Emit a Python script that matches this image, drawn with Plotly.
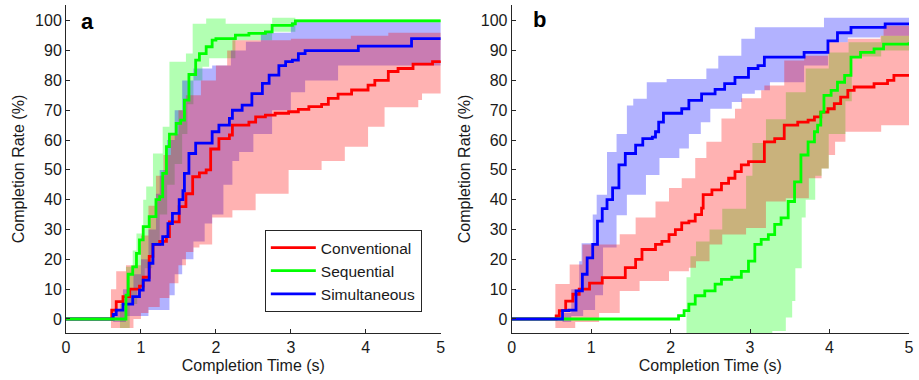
import plotly.graph_objects as go

# ---------------- Panel a data ----------------
a_conv_t = [0, 0.61, 0.67, 0.76, 0.85, 0.98, 1.03, 1.11, 1.16, 1.25, 1.34, 1.38, 1.51, 1.6, 1.69, 1.78, 1.87, 1.93, 2.04, 2.18,
            2.22, 2.44, 2.53, 2.66, 2.79, 2.97, 3.1, 3.24, 3.41, 3.5, 3.63, 3.81, 4.03, 4.12, 4.3, 4.43, 4.63, 4.89, 5.0]
a_conv_v = [0, 3, 5.8, 7.5, 10, 11, 14, 21, 25, 26, 27.6, 32.6, 37.7, 42, 47.7, 49, 50, 57, 60.5, 61.7,
            65, 66, 67.8, 68.4, 69, 69.5, 70.3, 71.2, 72, 74, 75.4, 76.8, 78.4, 80, 83, 84, 85.5, 86.3, 86.5]
a_conv_lo_t = [0.6, 0.8, 0.9, 1.0, 1.1, 1.25, 1.38, 1.5, 1.6, 1.7, 1.78, 1.95, 2.22, 2.53, 2.97, 3.41, 3.72, 4.03, 4.25, 4.7, 4.75, 5.0]
a_conv_lo_v = [-3, -3, 0, 2, 4, 7, 12, 18, 22.5, 24, 25, 34, 36.5, 42, 50, 53, 57.8, 64.5, 71, 73.4, 75.6, 75.6]
a_conv_hi_t = [0.6, 0.67, 0.8, 0.95, 1.0, 1.1, 1.2, 1.3, 1.4, 1.5, 1.6, 1.8, 2.0, 2.15, 2.22, 2.5, 3.0, 3.8, 4.3, 5.0]
a_conv_hi_v = [10, 16, 18, 18, 28, 38, 48, 55, 62, 70, 75, 80, 85, 90, 93.5, 93.5, 94, 95, 96, 97]

a_seq_t = [0, 0.72, 0.8, 0.83, 0.89, 0.94, 0.98, 1.03, 1.11, 1.2, 1.25, 1.29, 1.34, 1.38, 1.47, 1.53, 1.58, 1.64, 1.73, 1.78,
           1.87, 1.95, 2.0, 2.26, 2.44, 2.66, 2.75, 3.02, 3.06, 5.0]
a_seq_v = [0, 0, 8, 15, 17.5, 22, 26.5, 31, 34.3, 40, 41, 48.8, 57.8, 62, 65.6, 66.7, 73.4, 82, 86.8, 89,
           91.3, 93.5, 94, 95.2, 95.8, 96.3, 98.5, 99, 100, 100]
a_seq_lo_t = [0.72, 0.85, 0.95, 1.05, 1.15, 1.25, 1.35, 1.45, 1.55, 1.62, 1.7, 1.82, 1.91, 2.26, 2.75, 3.06, 5.0]
a_seq_lo_v = [-3, 5, 10, 17, 25, 35, 45, 52, 62, 72, 80, 84.6, 87.4, 93.5, 96.3, 99.5, 99.5]
a_seq_hi_t = [0.72, 0.8, 0.89, 0.94, 1.03, 1.07, 1.16, 1.29, 1.38, 1.6, 1.69, 1.87, 2.13, 2.66, 2.75, 3.06, 5.0]
a_seq_hi_v = [5, 17.5, 23, 28.7, 40, 44.4, 55.5, 64.5, 86.3, 89, 99, 100.8, 99, 99, 101, 100.5, 100.5]

a_sim_t = [0, 0.63, 0.67, 0.76, 0.89, 0.98, 1.03, 1.11, 1.16, 1.29, 1.36, 1.42, 1.51, 1.56, 1.58, 1.64, 1.73, 1.95, 2.04, 2.18,
           2.22, 2.35, 2.48, 2.62, 2.71, 2.84, 2.93, 3.02, 3.1, 3.19, 3.9, 4.61, 5.0]
a_sim_v = [0, 1.5, 3, 5, 7.5, 9.7, 13, 18.7, 25, 27.6, 32, 35.4, 40, 43, 48.8, 55.5, 59, 62.8, 65, 67.3,
           70, 71.7, 75.6, 79, 81.8, 85, 86.3, 86.8, 89, 90, 91.5, 94, 94]
a_sim_lo_t = [0.63, 0.8, 1.1, 1.38, 1.45, 1.55, 1.7, 1.85, 1.95, 2.1, 2.22, 2.31, 2.5, 2.75, 3.0, 3.19, 3.63, 5.0]
a_sim_lo_v = [-1, 1, 3, 8, 15, 20, 26, 32, 35, 45, 53, 56, 62, 70, 76, 80, 85, 85]
a_sim_hi_t = [0.63, 0.76, 0.9, 1.0, 1.1, 1.2, 1.25, 1.35, 1.45, 1.55, 1.7, 1.95, 2.2, 2.4, 2.6, 3.0, 5.0]
a_sim_hi_v = [3, 10, 15, 20, 30, 42, 50, 60, 70, 80, 84, 85, 90, 93, 96, 99.5, 99.5]

# ---------------- Panel b data ----------------
b_conv_t = [0, 0.56, 0.6, 0.68, 0.77, 0.85, 0.98, 1.14, 1.43, 1.56, 1.64, 1.81, 1.89, 1.98, 2.06, 2.14, 2.23, 2.31, 2.39, 2.41,
            2.52, 2.64, 2.73, 2.81, 2.89, 2.98, 3.18, 3.31, 3.43, 3.6, 3.73, 3.81, 3.89, 3.98, 4.06, 4.14, 4.23, 4.31, 4.56, 4.73,
            4.81, 5.0]
b_conv_v = [0, 1, 2.8, 6, 8.3, 10, 12, 13.9, 17.2, 20, 23.3, 25, 26, 28.3, 30, 32.2, 32.8, 35, 37.2, 41.7,
            43.3, 45.5, 47.2, 49.4, 51.7, 52.8, 59.4, 60.5, 65, 66, 66.7, 67.8, 69.4, 70.5, 72.2, 74.4, 76.7, 77.8, 78.9, 80,
            81.7, 81.7]
b_conv_lo_t = [0.55, 0.8, 1.1, 1.36, 1.61, 1.98, 2.23, 2.32, 2.49, 2.65, 2.95, 3.2, 3.45, 3.74, 3.9, 3.99, 4.07, 4.2, 4.65, 5.0]
b_conv_lo_v = [-3, -1, 2, 9.4, 12.7, 16, 17.2, 19.4, 25, 28.3, 30.5, 39.4, 40.5, 47.2, 50.5, 55, 59.4, 62.8, 65, 65.5]
b_conv_hi_t = [0.55, 0.73, 0.89, 1.36, 1.56, 1.81, 1.98, 2.14, 2.31, 2.45, 2.64, 2.81, 2.89, 3.14, 3.18, 3.43, 3.68, 3.98,
               4.23, 4.64, 4.68, 5.0]
b_conv_hi_v = [11.7, 18.3, 25, 28.4, 34, 39.4, 43.9, 47.2, 54, 59.4, 67.2, 70.5, 74, 76.7, 78.3, 86.7, 88.3, 92.8,
               94, 95, 98.3, 98.3]

b_seq_t = [0, 2.04, 2.1, 2.17, 2.23, 2.31, 2.43, 2.56, 2.64, 2.77, 2.89, 2.98, 3.06, 3.14, 3.23, 3.31, 3.39, 3.48, 3.56, 3.64,
           3.73, 3.81, 3.85, 3.89, 3.93, 4.02, 4.1, 4.19, 4.27, 4.39, 4.56, 4.68, 5.0]
b_seq_v = [0, 0, 1.1, 2.8, 5, 7.8, 9.4, 11.7, 13.3, 14, 16, 19.4, 25, 26.7, 28.3, 31.7, 33.9, 39.4, 46, 55,
           59.4, 62.8, 65, 69.4, 75, 76.7, 79.4, 81.7, 87.8, 89.4, 90.6, 92.2, 92.8]
b_seq_lo_t = [2.2, 3.28, 3.45, 3.53, 3.57, 3.65, 3.7, 3.82, 3.9, 3.99, 4.2, 4.28, 4.65, 5.0]
b_seq_lo_v = [-10, -4, 0.5, 6, 17, 34, 40, 48, 50.5, 62, 73, 88, 90, 89.9]
b_seq_hi_t = [2.2, 2.25, 2.32, 2.49, 2.65, 2.95, 3.03, 3.2, 3.45, 3.7, 3.99, 4.24, 4.65, 5.0]
b_seq_hi_v = [14, 21, 26, 30, 37, 48, 59, 67, 76, 84, 89.4, 92.8, 95, 95.5]

b_sim_t = [0, 0.64, 0.72, 0.81, 0.89, 0.95, 1.02, 1.08, 1.14, 1.2, 1.27, 1.35, 1.43, 1.56, 1.65, 1.77, 1.81, 1.85, 1.91, 2.14,
           2.23, 2.39, 2.56, 2.68, 2.81, 2.98, 3.1, 3.18, 3.68, 3.98, 4.1, 4.27, 4.7, 5.0]
b_sim_v = [0, 2.8, 3, 9.4, 15, 20.5, 25, 32.8, 37, 40, 44, 51.7, 55.5, 58.3, 60.5, 61, 62.8, 66, 69, 70.5,
           73.3, 75.5, 77, 78.9, 81, 84, 85, 87.8, 89.4, 93.3, 96, 97.8, 99, 99]
b_sim_lo_t = [0.64, 0.75, 0.9, 1.05, 1.15, 1.32, 1.45, 1.69, 1.86, 2.11, 2.23, 2.38, 2.5, 2.77, 2.9, 3.06, 3.25, 3.68, 3.98,
              4.23, 4.64, 5.0]
b_sim_lo_v = [-1, 1, 3, 8, 24, 34.8, 41.7, 48.3, 54, 57.2, 62, 66, 70.5, 72.8, 75.5, 76.7, 79.4, 85, 92.8,
              94.4, 95, 95.5]
b_sim_hi_t = [0.64, 0.75, 0.85, 0.88, 1.02, 1.07, 1.2, 1.32, 1.45, 1.53, 1.7, 1.95, 2.2, 2.45, 2.6, 2.89, 3.06, 3.93, 5.0]
b_sim_hi_v = [2, 10, 19.4, 25.4, 35, 41.7, 56, 62, 71.6, 73.9, 79.4, 80.5, 80.5, 84, 88.3, 94, 97.8, 101, 101]

x_ticks = [0, 1, 2, 3, 4, 5]
y_ticks = [0, 10, 20, 30, 40, 50, 60, 70, 80, 90, 100]
names = ["Conventional", "Sequential", "Simultaneous"]
line_colors = {"Conventional": "#ff0000", "Sequential": "#00ff00", "Simultaneous": "#0000ff"}
band_colors = {"Conventional": "rgba(255,0,0,0.3)", "Sequential": "rgba(0,255,0,0.3)",
               "Simultaneous": "rgba(0,0,255,0.3)"}

FONT = "Liberation Sans, Arial, sans-serif"
fig = go.Figure()


def add_band(t_lo, v_lo, t_hi, v_hi, color, xa, ya):
    fig.add_trace(go.Scatter(x=t_lo, y=v_lo, mode="lines", line=dict(width=0, shape="hv"),
                             showlegend=False, hoverinfo="skip", xaxis=xa, yaxis=ya))
    fig.add_trace(go.Scatter(x=t_hi, y=v_hi, mode="lines", line=dict(width=0, shape="hv"),
                             fill="tonexty", fillcolor=color, showlegend=False, hoverinfo="skip",
                             xaxis=xa, yaxis=ya))


def add_line(t, v, name, xa, ya, legend):
    fig.add_trace(go.Scatter(x=t, y=v, mode="lines", name=name,
                             line=dict(color=line_colors[name], width=2.8, shape="hv"),
                             showlegend=legend, xaxis=xa, yaxis=ya))


# Panel a: bands (green, blue, red), then lines (red, blue, green)
add_band(a_seq_lo_t, a_seq_lo_v, a_seq_hi_t, a_seq_hi_v, band_colors["Sequential"], "x", "y")
add_band(a_sim_lo_t, a_sim_lo_v, a_sim_hi_t, a_sim_hi_v, band_colors["Simultaneous"], "x", "y")
add_band(a_conv_lo_t, a_conv_lo_v, a_conv_hi_t, a_conv_hi_v, band_colors["Conventional"], "x", "y")
add_line(a_conv_t, a_conv_v, "Conventional", "x", "y", False)
add_line(a_sim_t, a_sim_v, "Simultaneous", "x", "y", False)
add_line(a_seq_t, a_seq_v, "Sequential", "x", "y", False)

# Panel b
add_band(b_seq_lo_t, b_seq_lo_v, b_seq_hi_t, b_seq_hi_v, band_colors["Sequential"], "x2", "y2")
add_band(b_sim_lo_t, b_sim_lo_v, b_sim_hi_t, b_sim_hi_v, band_colors["Simultaneous"], "x2", "y2")
add_band(b_conv_lo_t, b_conv_lo_v, b_conv_hi_t, b_conv_hi_v, band_colors["Conventional"], "x2", "y2")
add_line(b_conv_t, b_conv_v, "Conventional", "x2", "y2", True)
add_line(b_seq_t, b_seq_v, "Sequential", "x2", "y2", True)
add_line(b_sim_t, b_sim_v, "Simultaneous", "x2", "y2", True)

W, H = 919, 380
ML, MR, MT, MB = 66, 5, 5, 47
PW = W - ML - MR
dom_a = [0, (443 - ML) / PW]
dom_b = [(514.3 - ML) / PW, 1]

axis_common = dict(showline=True, linecolor="#262626", linewidth=1, ticks="inside", ticklen=4,
                   tickcolor="#262626", showgrid=False, zeroline=False, mirror=False,
                   tickfont=dict(family=FONT, size=16, color="#1a1a1a"))
xcommon = dict(axis_common, range=[0, 5], tickvals=x_ticks,
               title=dict(text="Completion Time (s)", font=dict(family=FONT, size=16, color="#1a1a1a"), standoff=4))
ycommon = dict(axis_common, range=[-4.7, 105.3], tickvals=y_ticks,
               title=dict(text="Completion Rate (%)", font=dict(family=FONT, size=16, color="#1a1a1a"), standoff=6))

fig.update_layout(
    width=W, height=H,
    margin=dict(l=ML, r=MR, t=MT, b=MB),
    paper_bgcolor="white", plot_bgcolor="white",
    xaxis=dict(xcommon, domain=dom_a, anchor="y"),
    yaxis=dict(ycommon, domain=[0, 1], anchor="x"),
    xaxis2=dict(xcommon, domain=dom_b, anchor="y2"),
    yaxis2=dict(ycommon, domain=[0, 1], anchor="x2"),
    showlegend=True,
    legend=dict(x=(266 - ML) / PW, y=(H - MB - 230) / (H - MT - MB), xanchor="left", yanchor="top",
                bgcolor="white", bordercolor="#262626", borderwidth=1, traceorder="normal",
                font=dict(family=FONT, size=15.5, color="#1a1a1a"), tracegroupgap=0, itemwidth=45),
    annotations=[
        dict(text="<b>a</b>", xref="x domain", yref="y domain", x=0.057, y=0.951, showarrow=False,
             xanchor="center", yanchor="middle", font=dict(family=FONT, size=22, color="black")),
        dict(text="<b>b</b>", xref="x2 domain", yref="y2 domain", x=0.069, y=0.955, showarrow=False,
             xanchor="center", yanchor="middle", font=dict(family=FONT, size=22, color="black")),
    ],
)

fig.write_html("out.html", config={"displayModeBar": False},
               post_script="document.body.style.margin='0';document.body.style.padding='0';")
